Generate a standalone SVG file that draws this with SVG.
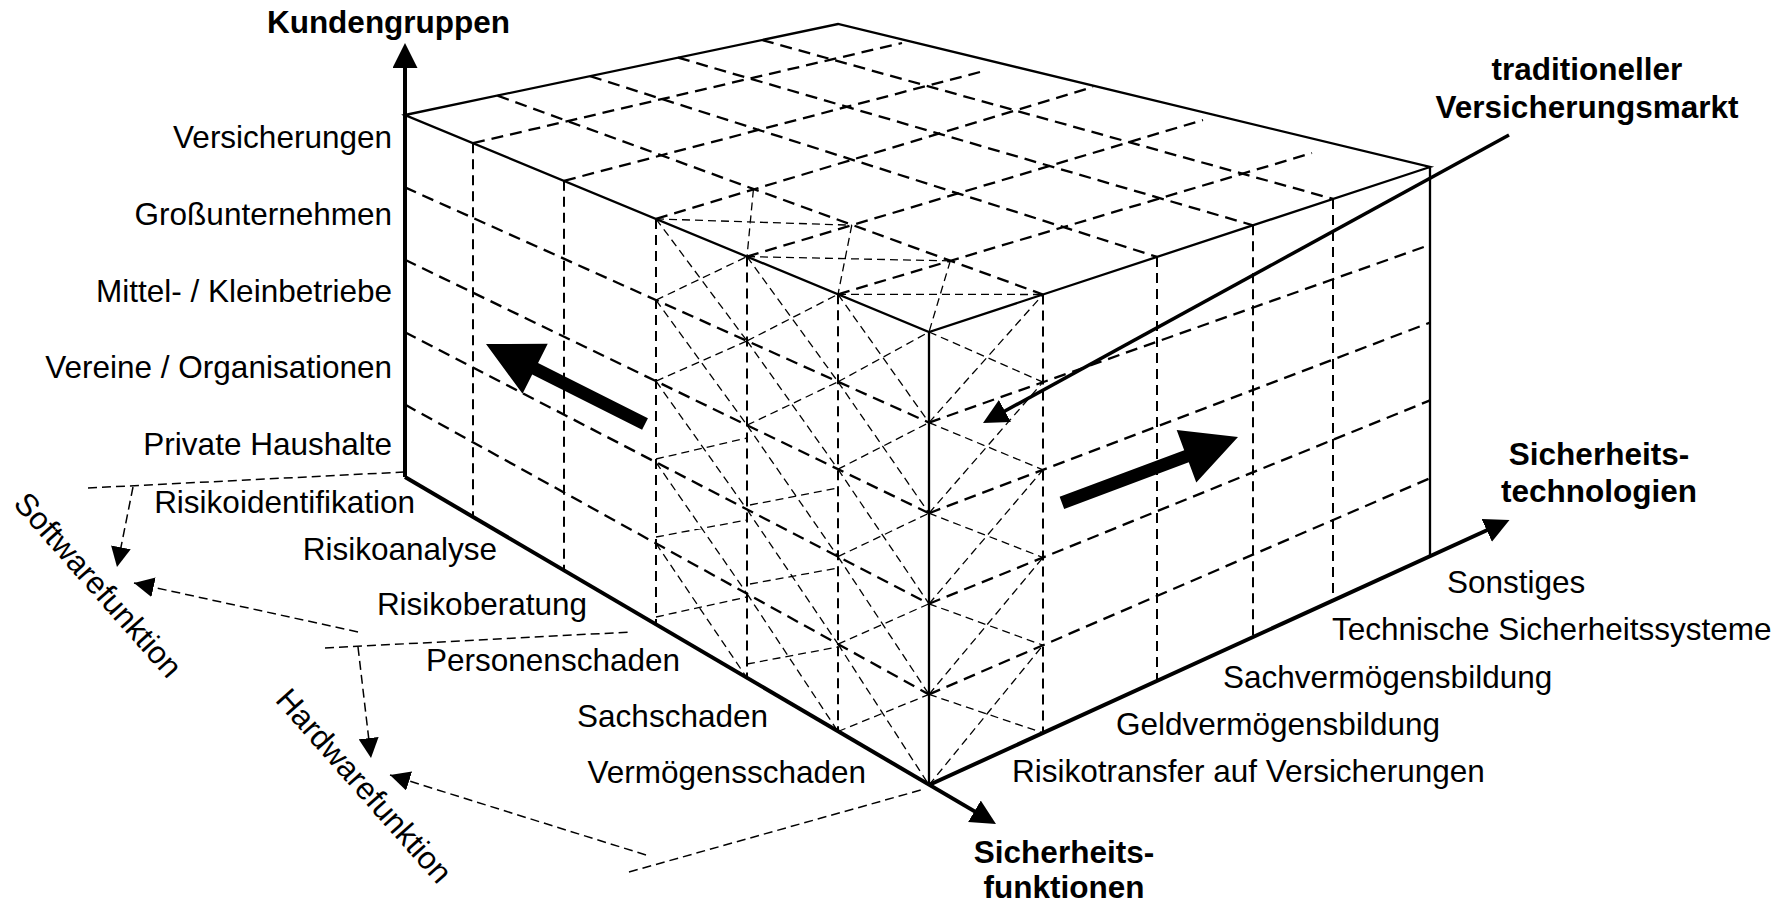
<svg xmlns="http://www.w3.org/2000/svg" width="1792" height="905" viewBox="0 0 1792 905">
<defs>
<style>
.edge{fill:none;stroke:#000;stroke-width:2.3}
.axis{fill:none;stroke:#000;stroke-width:4}
.grid{fill:none;stroke:#000;stroke-width:2.3;stroke-dasharray:12 7}
.vgrid{fill:none;stroke:#000;stroke-width:2;stroke-dasharray:10 6}
.hatch{fill:none;stroke:#000;stroke-width:1.3;stroke-dasharray:8 5}
.guide{fill:none;stroke:#000;stroke-width:1.5;stroke-dasharray:9 5}
.lbl{font-family:"Liberation Sans",Arial,sans-serif;font-size:31.5px;fill:#000}
.ttl{font-family:"Liberation Sans",Arial,sans-serif;font-size:31.5px;font-weight:bold;fill:#000}
</style>
<marker id="head" markerUnits="userSpaceOnUse" markerWidth="26" markerHeight="26" refX="17" refY="12.5" orient="auto"><path d="M0,0 L25,12.5 L0,25 Z" fill="#000"/></marker>
<marker id="headSmall" markerUnits="userSpaceOnUse" markerWidth="20" markerHeight="20" refX="20" refY="10" orient="auto"><path d="M0,0 L20,10 L0,20 Z" fill="#000"/></marker>
</defs>
<rect width="1792" height="905" fill="#fff"/>

<!-- left face grid -->
<g id="grid-left">
<path class="vgrid" d="M473,143.2 V517 M564,180.8 V570.5 M656,218.9 V624.5 M747,256.6 V678 M838,294.3 V731.5"/>
<path class="grid" d="M405,187.4 L929,422.6 M405,259.8 L929,513.2 M405,332.2 L929,603.8 M405,404.6 L929,694.4"/>
</g>

<!-- right face grid -->
<g id="grid-right">
<path class="vgrid" d="M1043,294.5 V733 M1157,256.9 V680.9 M1253,225.3 V637.1 M1333,198.9 V600.6"/>
<path class="grid" d="M929,422.6 L1430,244.8 M929,513.2 L1430,322.6 M929,603.8 L1430,400.4 M929,694.4 L1430,478.2"/>
</g>

<!-- top face grid -->
<g id="grid-top">
<path class="grid" d="M473,143.2 L902,43 M564,180.8 L980,72 M656,218.9 L1093,87 M747,256.6 L1203,120 M838,294.3 L1312,153"/>
<path class="grid" d="M497.5,95.6 L1043,294.5 M590,76.1 L1157,256.9 M678,57.6 L1253,225.3 M762,40 L1333,198.9"/>
</g>

<!-- traditional insurance market block: crossed cells -->
<g id="market-block">
<path class="hatch" d="M656,218.9 L851.8,225.2 M753.4,189.5 L747,256.6 M747,256.6 L950.3,260.9 M851.8,225.2 L838,294.3 M838,294.3 L1043,294.5 M950.3,260.9 L929,332"/>
<path class="hatch" d="M656,218.9 L747,340.9 M656,300.1 L747,256.6 M656,300.1 L747,425.2 M656,381.2 L747,340.9 M656,381.2 L747,509.5 M656,459 L747,438 M656,462.3 L747,593.7 M656,537 L747,520 M656,543.4 L747,678 M656,617 L747,597"/>
<path class="hatch" d="M747,256.6 L838,381.8 M747,340.9 L838,294.3 M747,340.9 L838,469.2 M747,425.2 L838,381.8 M747,425.2 L838,556.6 M750,505 L838,488 M747,509.5 L838,644.1 M750,584 L838,568 M747,593.7 L838,731.5 M747,664 L838,647"/>
<path class="hatch" d="M838,294.3 L929,422.6 M838,381.8 L929,332 M838,381.8 L929,513.2 M838,469.2 L929,422.6 M838,469.2 L929,603.8 M838,556.6 L929,513.2 M838,556.6 L929,694.4 M838,644.1 L929,603.8 M838,644.1 L929,785 M838,731.5 L929,694.4"/>
<path class="hatch" d="M929,332 L1043,382.1 M929,422.6 L1043,294.5 M929,422.6 L1043,469.8 M929,513.2 L1043,382.1 M929,513.2 L1043,557.5 M929,603.8 L1043,469.8 M929,603.8 L1043,645.2 M929,694.4 L1043,557.5 M929,694.4 L1043,732.9 M929,785 L1043,645.2"/>
</g>

<!-- solid outline of the cuboid -->
<g id="box-edges">
<path class="edge" d="M405,115 L838,24 L1430,167 L929,332 Z M929,332 V785 M1430,167 V556"/>
</g>

<!-- the three axes -->
<g id="axes">
<path class="axis" d="M405,477 V51" marker-end="url(#head)"/>
<path class="axis" d="M405,477 L989.1,819.9" marker-end="url(#head)"/>
<path class="axis" d="M929,785 L1502.2,523.3" marker-end="url(#head)"/>
</g>

<!-- direction arrows -->
<g id="arrow-left">
<polygon transform="translate(486 344) rotate(206.7)" points="0,0 -55,-28 -55,-6.5 -178,-6.5 -178,6.5 -55,6.5 -55,28" fill="#000"/>
</g>
<g id="arrow-right">
<polygon transform="translate(1238 437) rotate(-20.5)" points="0,0 -55,-28 -55,-6.5 -188,-6.5 -188,6.5 -55,6.5 -55,28" fill="#000"/>
</g>

<!-- connectors -->
<g id="connectors">
<path d="M1509,135 L990,419.2" fill="none" stroke="#000" stroke-width="3.5" marker-end="url(#head)"/>
<path class="guide" d="M88,488 L404,472 M325,648 L631,632 M629,872 L921,790"/>
<path class="guide" d="M133,487 L117,567" marker-end="url(#headSmall)"/>
<path class="guide" d="M358,632 L134,583" marker-end="url(#headSmall)"/>
<path class="guide" d="M358,647 L371,758" marker-end="url(#headSmall)"/>
<path class="guide" d="M646,855 L390,775" marker-end="url(#headSmall)"/>
</g>

<!-- axis titles -->
<g id="title-kunden"><text class="ttl" x="388.5" y="33" text-anchor="middle">Kundengruppen</text></g>
<g id="title-markt"><text class="ttl" x="1587" y="80" text-anchor="middle">traditioneller</text><text class="ttl" x="1587" y="118" text-anchor="middle">Versicherungsmarkt</text></g>
<g id="title-technologien"><text class="ttl" x="1599" y="465" text-anchor="middle">Sicherheits-</text><text class="ttl" x="1599" y="502" text-anchor="middle">technologien</text></g>
<g id="title-funktionen"><text class="ttl" x="1064" y="863" text-anchor="middle">Sicherheits-</text><text class="ttl" x="1064" y="898" text-anchor="middle">funktionen</text></g>

<!-- customer groups -->
<g id="labels-kunden" class="lbl" text-anchor="end">
<text x="392" y="148">Versicherungen</text>
<text x="392" y="225">Großunternehmen</text>
<text x="392" y="302">Mittel- / Kleinbetriebe</text>
<text x="392" y="378">Vereine / Organisationen</text>
<text x="392" y="455">Private Haushalte</text>
</g>

<!-- safety functions -->
<g id="labels-funktionen" class="lbl" text-anchor="end">
<text x="415" y="513">Risikoidentifikation</text>
<text x="497" y="560">Risikoanalyse</text>
<text x="587" y="615">Risikoberatung</text>
<text x="680" y="671">Personenschaden</text>
<text x="768" y="727">Sachschaden</text>
<text x="866" y="783">Vermögensschaden</text>
</g>

<!-- safety technologies -->
<g id="labels-technologien" class="lbl">
<text x="1012" y="782">Risikotransfer auf Versicherungen</text>
<text x="1116" y="735">Geldvermögensbildung</text>
<text x="1223" y="688">Sachvermögensbildung</text>
<text x="1332" y="640">Technische Sicherheitssysteme</text>
<text x="1447" y="593">Sonstiges</text>
</g>

<!-- software / hardware grouping -->
<g id="label-software"><text class="lbl" text-anchor="middle" transform="translate(90 592) rotate(48.5)">Softwarefunktion</text></g>
<g id="label-hardware"><text class="lbl" text-anchor="middle" transform="translate(356 793) rotate(48.5)">Hardwarefunktion</text></g>
</svg>
